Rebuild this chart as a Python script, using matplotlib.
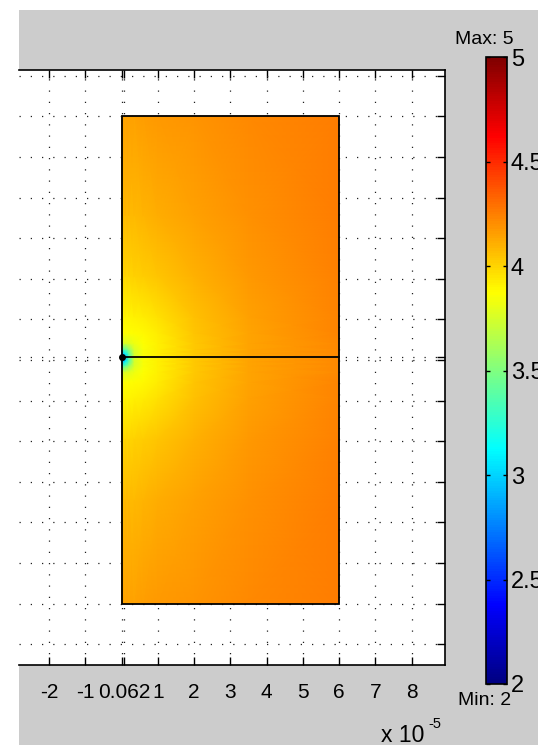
import numpy as np
import matplotlib
matplotlib.use("Agg")
import matplotlib.pyplot as plt
from matplotlib.colors import LinearSegmentedColormap
from matplotlib.patches import Rectangle

plt.rcParams['font.family'] = ['Liberation Sans', 'DejaVu Sans']

# ---------------- data (x, y in units of 1e-5) ----------------
x_nodes = [0, 0.1, 0.2, 0.35, 0.6, 1, 2, 3.5, 6]
y_nodes = [-6, -3.44, -1.94, -0.94, -0.54, -0.29, -0.14, -0.04, 0.0621,
           0.16, 0.26, 0.41, 0.66, 1.06, 2.06, 3.56, 6]
field_rows = [
    [4.15, 4.15, 4.15, 4.15, 4.16, 4.17, 4.19, 4.22, 4.26],
    [4.08, 4.08, 4.08, 4.08, 4.09, 4.11, 4.15, 4.20, 4.25],
    [4.00, 4.00, 4.00, 4.01, 4.02, 4.04, 4.10, 4.17, 4.24],
    [3.91, 3.91, 3.91, 3.92, 3.93, 3.96, 4.06, 4.15, 4.23],
    [3.87, 3.87, 3.87, 3.88, 3.89, 3.93, 4.04, 4.14, 4.23],
    [3.75, 3.76, 3.78, 3.82, 3.87, 3.92, 4.03, 4.14, 4.22],
    [3.35, 3.40, 3.55, 3.76, 3.86, 3.92, 4.03, 4.14, 4.22],
    [2.90, 3.10, 3.38, 3.75, 3.86, 3.92, 4.03, 4.14, 4.22],
    [2.00, 2.90, 3.35, 3.75, 3.86, 3.92, 4.03, 4.14, 4.22],
    [2.90, 3.10, 3.38, 3.75, 3.86, 3.92, 4.03, 4.14, 4.22],
    [3.35, 3.40, 3.55, 3.76, 3.86, 3.92, 4.03, 4.14, 4.22],
    [3.75, 3.76, 3.78, 3.82, 3.87, 3.92, 4.03, 4.14, 4.22],
    [3.87, 3.87, 3.87, 3.88, 3.89, 3.93, 4.04, 4.14, 4.23],
    [3.91, 3.91, 3.91, 3.92, 3.93, 3.96, 4.06, 4.15, 4.23],
    [4.00, 4.00, 4.00, 4.01, 4.02, 4.04, 4.10, 4.17, 4.24],
    [4.08, 4.08, 4.08, 4.08, 4.09, 4.11, 4.15, 4.20, 4.25],
    [4.15, 4.15, 4.15, 4.15, 4.16, 4.17, 4.19, 4.22, 4.26],
]
rect_x = (0, 6)
rect_y = (-6, 6)
crack_y = 0.0621
x_ticks = [-2, -1, 0, 0.0621, 1, 2, 3, 4, 5, 6, 7, 8]
x_tick_labels = ['-2', '-1', '', '0.062', '1', '2', '3', '4', '5', '6', '7', '8']
y_ticks = [-7, -6, -5, -4, -3, -2, -1, 0, 0.0621, 1, 2, 3, 4, 5, 6, 7]
cbar_ticks = [2, 2.5, 3, 3.5, 4, 4.5, 5]
cbar_labels = ['2', '2.5', '3', '3.5', '4', '4.5', '5']
vmin, vmax = 2, 5

# MATLAB-style jet colormap
jet_m = LinearSegmentedColormap('jet_m', {
    'red':   [(0, 0, 0), (3/8, 0, 0), (5/8, 1, 1), (7/8, 1, 1), (1, 0.5, 0.5)],
    'green': [(0, 0, 0), (1/8, 0, 0), (3/8, 1, 1), (5/8, 1, 1), (7/8, 0, 0), (1, 0, 0)],
    'blue':  [(0, 0.5, 0.5), (1/8, 1, 1), (3/8, 1, 1), (5/8, 0, 0), (1, 0, 0)],
}, N=256)

W, H = 538, 745
fig = plt.figure(figsize=(W / 100, H / 100), dpi=100, facecolor='white')
fig.patches.append(Rectangle((19 / W, 0), 1, 1 - 10 / H, transform=fig.transFigure,
                             facecolor='#cccccc', edgecolor='none', zorder=-10))

def fx(px):
    return px / W

def fy(py):
    return 1 - py / H

ax = fig.add_axes([fx(19), fy(664.5), fx(444.5) - fx(19), fy(70) - fy(664.5)])
ax.set_facecolor('white')
ax.set_xlim(-2.83, 8.91)
ax.set_ylim(-7.5, 7.14)

X, Y = np.meshgrid(np.array(x_nodes), np.array(y_nodes))
C = np.array(field_rows)
ax.pcolormesh(X, Y, C, shading='gouraud', cmap=jet_m, vmin=vmin, vmax=vmax, zorder=1)
ax.add_patch(Rectangle((rect_x[0], rect_y[0]), rect_x[1] - rect_x[0], rect_y[1] - rect_y[0],
                       facecolor='none', edgecolor='black', lw=1.3, zorder=3))
ax.plot(rect_x, [crack_y, crack_y], color='black', lw=1.3, zorder=3)
ax.plot([0], [crack_y], 'o', color='black', ms=4, zorder=4)

ax.set_xticks(x_ticks)
ax.set_xticklabels(x_tick_labels)
ax.set_yticks(y_ticks)
ax.set_axisbelow(True)
ax.grid(True, color='#202020', lw=0.9, linestyle=(0, (1, 8)))
ax.tick_params(axis='x', direction='in', top=True, bottom=True, length=6, width=1,
               labelsize=15, pad=13)
ax.tick_params(axis='y', direction='in', left=False, right=True, labelleft=False,
               length=6, width=1)
ax.spines['left'].set_visible(False)
for s in ['top', 'bottom', 'right']:
    ax.spines[s].set_linewidth(1.2)

# colorbar
cax = fig.add_axes([fx(486), fy(684), fx(506.5) - fx(486), fy(57.3) - fy(684)])
sm = matplotlib.cm.ScalarMappable(cmap=jet_m, norm=plt.Normalize(vmin, vmax))
cb = fig.colorbar(sm, cax=cax)
cb.set_ticks(cbar_ticks)
cb.set_ticklabels(cbar_labels)
cb.outline.set_linewidth(1.2)
cax.tick_params(direction='in', left=True, right=True, length=3, width=1,
                labelsize=17, pad=3)

fig.text(fx(484), fy(44), 'Max: 5', ha='center', va='baseline', fontsize=14)
fig.text(fx(484.5), fy(705), 'Min: 2', ha='center', va='baseline', fontsize=14)
fig.text(fx(381), fy(742), 'x 10', ha='left', va='baseline', fontsize=16.5)
fig.text(fx(428), fy(728), '-5', ha='left', va='baseline', fontsize=10.5)

fig.savefig('out.png', dpi=100, facecolor=fig.get_facecolor())
